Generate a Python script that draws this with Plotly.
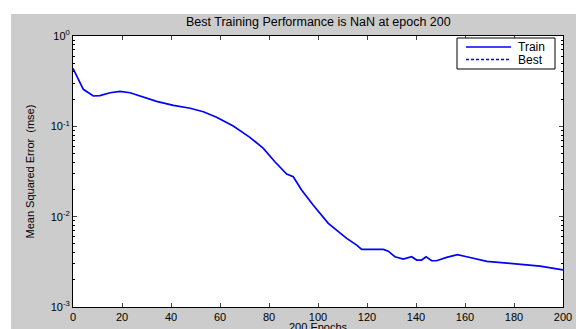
import plotly.graph_objects as go

# ---- data ----
epochs = [0, 4.2, 8.3, 11, 15.1, 19.2, 23.3, 28.7, 34.1, 41, 47.8, 53.2, 58.6, 65.4,
          72.2, 77.7, 82.4, 87.2, 89.9, 93.3, 98, 104.2, 111.7, 115.8, 117.8, 126.7,
          128.7, 131.4, 132.8, 134.8, 138.2, 140.3, 142.3, 144.1, 146.4, 148.4, 152.5,
          156.9, 160.7, 164.8, 168.9, 178.4, 190.6, 200]
log_mse = [-0.358, -0.59, -0.664, -0.66, -0.628, -0.613, -0.628, -0.679, -0.723, -0.768,
           -0.80, -0.838, -0.90, -0.997, -1.122, -1.244, -1.392, -1.528, -1.558, -1.705,
           -1.871, -2.074, -2.24, -2.315, -2.363, -2.363, -2.382, -2.444, -2.455, -2.47,
           -2.444, -2.48, -2.48, -2.444, -2.488, -2.488, -2.451, -2.42, -2.444, -2.473,
           -2.495, -2.517, -2.547, -2.59]
train_mse = [10 ** v for v in log_mse]
best_epochs = [None]
best_mse = [None]
legend_names = ["Train", "Best"]

x_ticks = [0, 20, 40, 60, 80, 100, 120, 140, 160, 180, 200]
y_ticks = [1e-3, 1e-2, 1e-1, 1e0]
y_ticktext = ["10<sup>-3</sup>", "10<sup>-2</sup>", "10<sup>-1</sup>", "10<sup>0</sup>"]
y_minor = [m * d for d in [1e-3, 1e-2, 1e-1] for m in range(2, 10)]

title_text = "Best Training Performance is NaN at epoch 200"
x_label = "200 Epochs"
y_label = "Mean Squared Error  (mse)"

FONT = "Liberation Sans, Arial, sans-serif"
BLUE = "#0000ff"
GRAY = "#cccccc"
# grey figure sits 11 px from the left and 14 px from the top of the 576x329 page
OX, OY = 11, 14
W, H = 576 - OX, 329 - OY
L, R, T, B = 73 - OX, 13, 36 - OY, 22
pw, ph = W - L - R, H - T - B

def px(xp):
    return (xp - OX - L) / pw

def py(yp):
    return (H - B - (yp - OY)) / ph

fig = go.Figure()
fig.add_trace(go.Scatter(x=epochs, y=train_mse, mode="lines", name=legend_names[0],
                         line=dict(color=BLUE, width=1.7)))
fig.add_trace(go.Scatter(x=best_epochs, y=best_mse, mode="lines", name=legend_names[1],
                         line=dict(color=BLUE, width=1, dash="dash")))

shapes = [
    # legend box
    dict(type="rect", xref="paper", yref="paper", x0=px(457), x1=px(555),
         y0=py(69), y1=py(38), fillcolor="white", line=dict(color="black", width=1)),
    dict(type="line", xref="paper", yref="paper", x0=px(466), x1=px(511),
         y0=py(47), y1=py(47), line=dict(color=BLUE, width=1.7)),
    dict(type="line", xref="paper", yref="paper", x0=px(466), x1=px(511),
         y0=py(59.5), y1=py(59.5), line=dict(color=BLUE, width=1.3, dash="3px,2px")),
]

annotations = [
    dict(text=title_text, xref="paper", yref="paper", x=0.5, y=py(22),
         xanchor="center", yanchor="middle", showarrow=False, font=dict(size=12.5)),
    dict(text=x_label, xref="paper", yref="paper", x=0.5, y=py(327),
         xanchor="center", yanchor="middle", showarrow=False, font=dict(size=11)),
    dict(text=y_label, xref="paper", yref="paper", x=px(29), y=0.5,
         xanchor="center", yanchor="middle", showarrow=False, textangle=-90,
         font=dict(size=11)),
    dict(text=legend_names[0], xref="paper", yref="paper", x=px(516), y=py(47),
         xanchor="left", yanchor="middle", showarrow=False, font=dict(size=12)),
    dict(text=legend_names[1], xref="paper", yref="paper", x=px(516), y=py(59.5),
         xanchor="left", yanchor="middle", showarrow=False, font=dict(size=12)),
]

fig.update_layout(
    width=W, height=H,
    margin=dict(l=L, r=R, t=T, b=B, autoexpand=False),
    paper_bgcolor=GRAY, plot_bgcolor="white",
    font=dict(family=FONT, size=11, color="black"),
    showlegend=False,
    shapes=shapes,
    annotations=annotations,
)

fig.update_xaxes(range=[0, 200], tickvals=x_ticks, ticks="inside", ticklen=4,
                 showline=True, linecolor="black", linewidth=1, mirror="ticks",
                 showgrid=False, zeroline=False, tickfont=dict(size=11))
fig.update_yaxes(type="log", range=[-3, 0], tickvals=y_ticks, ticktext=y_ticktext,
                 ticks="inside", ticklen=4, showline=True, linecolor="black",
                 linewidth=1, mirror="allticks", showgrid=False, zeroline=False,
                 minor=dict(tickvals=y_minor, ticks="inside", ticklen=2,
                            tickcolor="black", showgrid=False),
                 tickfont=dict(size=11))

post = ("document.body.style.margin='0';document.body.style.background='white';"
        "var gd=document.getElementById('{plot_id}');"
        "gd.style.marginLeft='%dpx';gd.style.marginTop='%dpx';" % (OX, OY))
fig.write_html("out.html", config={"displayModeBar": False}, post_script=post)
